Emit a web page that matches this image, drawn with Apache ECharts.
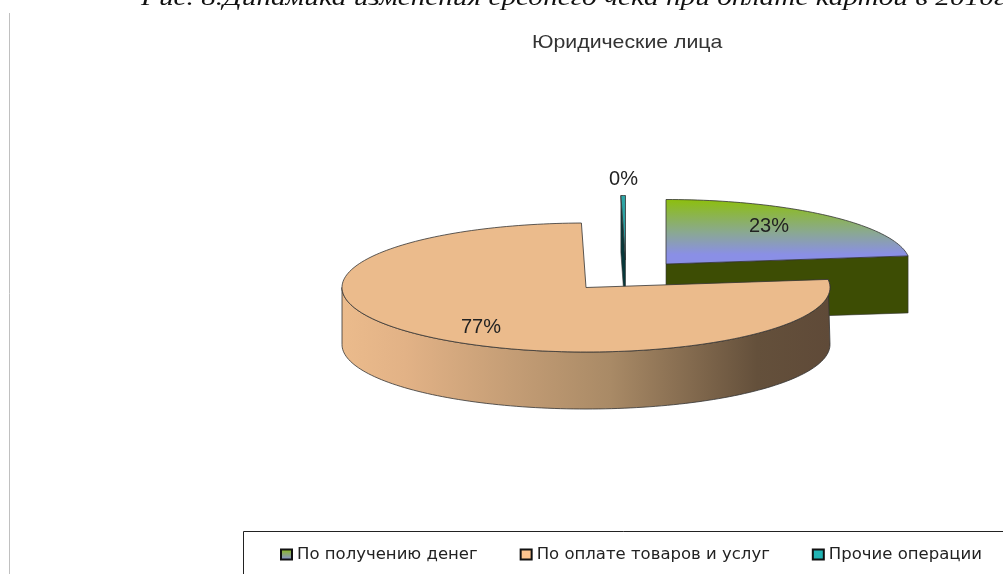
<!DOCTYPE html>
<html><head><meta charset="utf-8">
<style>html,body{margin:0;padding:0;background:#fff}#c{width:1003px;height:574px}</style>
<script src="https://cdn.jsdelivr.net/npm/echarts@6/dist/echarts.min.js"></script>
</head><body><div id="c"></div>
<script>
const categories = ['По получению денег', 'По оплате товаров и услуг', 'Прочие операции'];
const shareValues = [23, 76.7, 0.3];
const tickLabels = ['23%', '77%', '0%'];
const captionText = 'Рис. 8.Динамика изменения среднего чека при оплате картой в 2010г.';
const chartTitleText = 'Юридические лица';

const explodedCenters = [[666, 264], [586, 287.5], [625.5, 260]];
const labelCenters = [[769, 226.5], [481, 327], [623.5, 179]];
const radiusX = 244, radiusY = 64.5, depth = 57;
const outline = '#333';
const G = echarts.graphic;
const topFills = [
  new G.LinearGradient(0, 0, 0, 1, [{offset: 0, color: '#8dbf0c'}, {offset: .5, color: '#8aa98f'}, {offset: .85, color: '#8a8fe6'}, {offset: 1, color: '#8a8fe6'}]),
  '#ebbb8c',
  new G.LinearGradient(0, 0, 0, 1, [{offset: 0, color: '#2ea6a6'}, {offset: 1, color: '#2a9a9e'}])
];
const wallFills = [
  '#3d4d04',
  new G.LinearGradient(0, 0, 1, 0, [{offset: 0, color: '#ebbb8c'}, {offset: .13, color: '#e2b286'}, {offset: .55, color: '#a98a66'}, {offset: .85, color: '#64503b'}, {offset: 1, color: '#5f4a38'}]),
  '#08383a'
];
const swatchFills = [
  new G.LinearGradient(0, 0, 0, 1, [{offset: 0, color: '#8dbf0c'}, {offset: 1, color: '#8a8fe6'}]),
  '#fcc48f',
  '#22b5b5'
];
const zOrder = [1, 3, 2];

function rim(c, deg, dy) {
  const a = deg * Math.PI / 180;
  return [c[0] + radiusX * Math.sin(a), c[1] - radiusY * Math.cos(a) + (dy || 0)];
}
function arc(c, from, to, dy) {
  const pts = [];
  const n = Math.max(2, Math.ceil(Math.abs(to - from) / 1.5));
  for (let i = 0; i <= n; i++) pts.push(rim(c, from + (to - from) * i / n, dy));
  return pts;
}
function renderSlice(i) {
  return function (params, api) {
    const total = shareValues.reduce((s, v) => s + v, 0);
    const before = shareValues.slice(0, i).reduce((s, v) => s + v, 0);
    const a0 = before / total * 360;
    const a1 = a0 + api.value(0) / total * 360;
    const c = explodedCenters[i];
    const children = [];
    if (i !== 1) {
      const p = rim(c, i === 0 ? a1 : a0);
      children.push({type: 'polygon', shape: {points: [c, p, [p[0], p[1] + depth], [c[0], c[1] + depth]]},
        style: {fill: wallFills[i], stroke: outline, lineWidth: .6}});
    }
    if (i === 1) {
      const wallEnd = Math.min(a1, 270);
      const top = arc(c, a0, wallEnd, 0);
      const bottom = arc(c, wallEnd, Math.max(a0, 90), depth);
      children.push({type: 'polygon', shape: {points: top.concat(bottom)},
        style: {fill: wallFills[i], stroke: outline, lineWidth: .8}});
    }
    children.push({type: 'polygon', shape: {points: [c].concat(arc(c, a0, a1, 0))},
      style: {fill: topFills[i], stroke: outline, lineWidth: .8}});
    children.push({type: 'text', x: labelCenters[i][0], y: labelCenters[i][1],
      style: {text: tickLabels[i], fill: '#222', font: '20px "Liberation Sans"', align: 'center', verticalAlign: 'middle'}, z2: 10});
    return {type: 'group', children};
  };
}

const chart = echarts.init(document.getElementById('c'));
chart.setOption({
  animation: false,
  backgroundColor: '#fff',
  legend: {
    left: 275, top: 541, itemWidth: 11, itemHeight: 10, itemGap: 42, icon: 'rect',
    data: categories,
    selectedMode: false,
    textStyle: {fontFamily: 'DejaVu Sans', fontSize: 16.5, color: '#222', padding: [0, 0, 0, 0]},
    itemStyle: {borderColor: '#111', borderWidth: 2}
  },
  graphic: [
    {type: 'line', shape: {x1: 9.5, y1: 13, x2: 9.5, y2: 574}, style: {stroke: '#c0c0c0', lineWidth: 1}, silent: true},
    {type: 'rect', shape: {x: 243.5, y: 531.5, width: 800, height: 80}, style: {fill: 'none', stroke: '#222', lineWidth: 1}, silent: true},
    {type: 'text', x: 141, y: 11, scaleX: 1.22, silent: true,
      style: {text: captionText, fill: '#111', font: 'italic 24px "Liberation Serif"', align: 'left', verticalAlign: 'bottom'}},
    {type: 'text', x: 532, y: 43, scaleX: 1.12, silent: true,
      style: {text: chartTitleText, fill: '#333', font: '19px "Liberation Sans"', align: 'left', verticalAlign: 'middle'}}
  ],
  series: categories.map((name, i) => ({
    type: 'custom', name, coordinateSystem: 'none', z: zOrder[i], silent: true,
    itemStyle: {color: swatchFills[i]},
    data: [shareValues[i]],
    renderItem: renderSlice(i)
  }))
});
</script></body></html>
